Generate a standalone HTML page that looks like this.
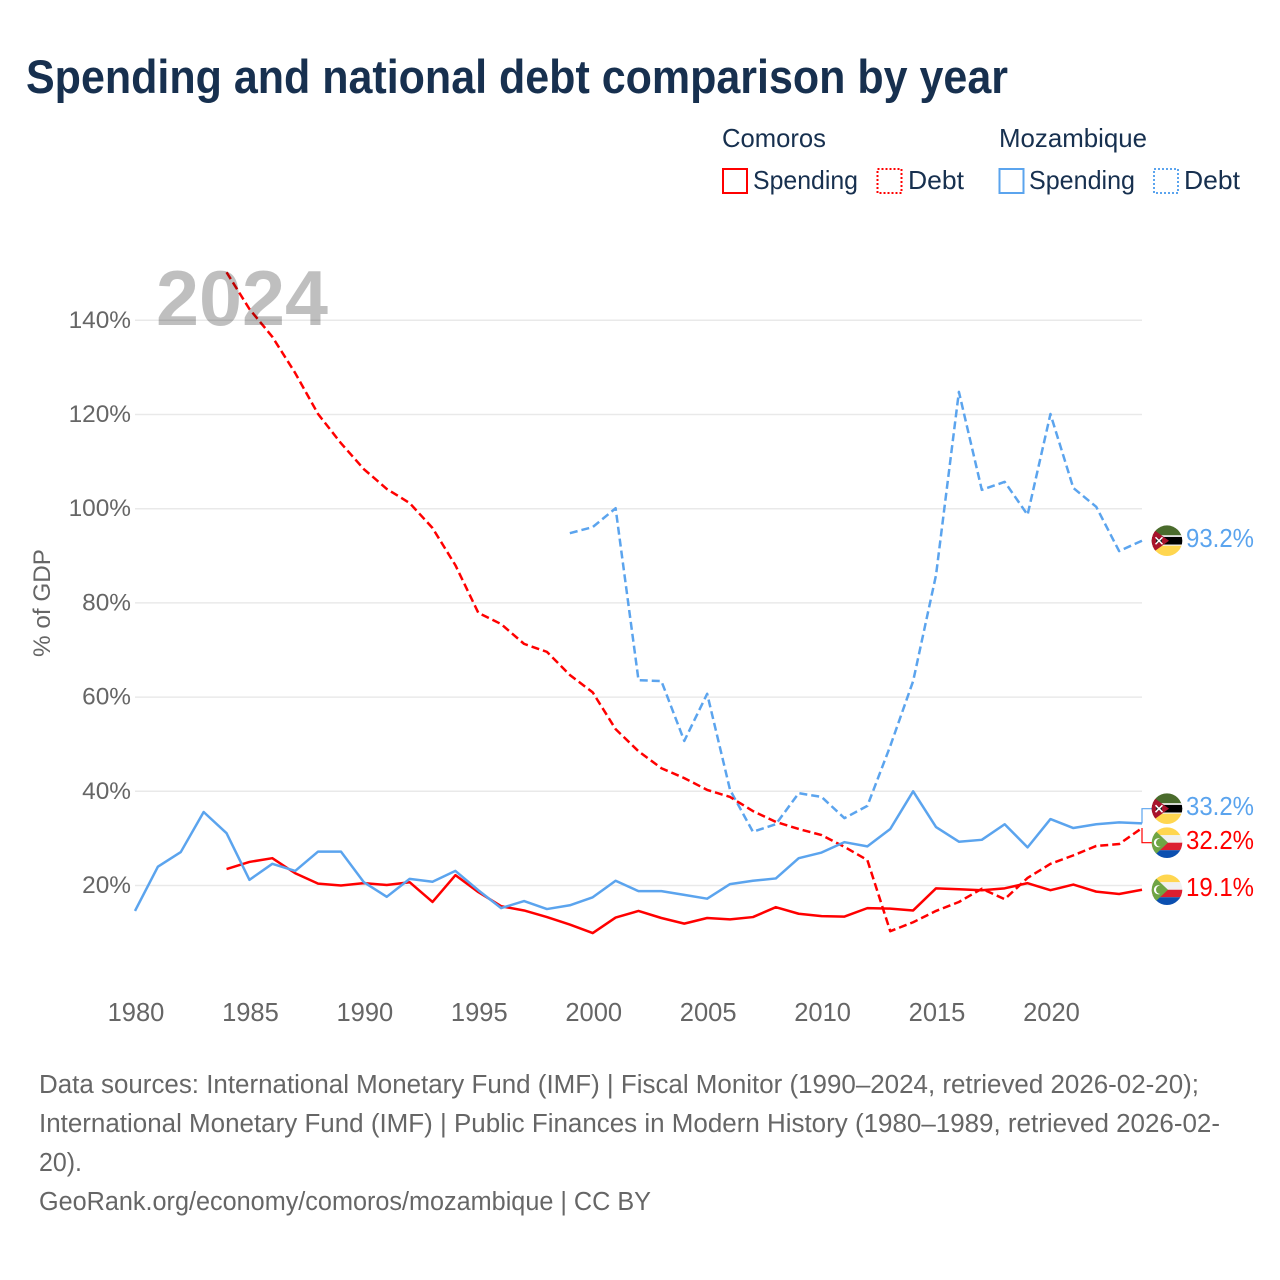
<!DOCTYPE html>
<html lang="en">
<head>
<meta charset="utf-8">
<title>Spending and national debt comparison by year</title>
<style>
html,body{margin:0;padding:0;background:#fff;width:1280px;height:1280px;overflow:hidden}
svg{display:block}
text{font-family:"Liberation Sans",sans-serif}
.leg{font-size:26px;fill:#17304f}
.foot{font-size:25.5px;fill:#666}
.xt{font-size:25.5px;fill:#666;text-anchor:middle}
.yt{font-size:24.4px;fill:#666;text-anchor:end}
.ln{fill:none;stroke-width:2.5;stroke-linejoin:round}
</style>
</head>
<body>
<svg id="chart" xmlns="http://www.w3.org/2000/svg" width="1280" height="1280" viewBox="0 0 1280 1280">
  <defs>
    <clipPath id="flag-clip"><circle cx="0" cy="0" r="15.3"/></clipPath>
    <g id="flag-mz" clip-path="url(#flag-clip)">
      <rect x="-16" y="-16" width="32" height="11" fill="#4a6b2c"/>
      <rect x="-16" y="-5.500" width="32" height="11" fill="#f2f2f2"/>
      <rect x="-16" y="-3.800" width="32" height="7.600" fill="#000"/>
      <rect x="-16" y="5" width="32" height="11" fill="#ffd64f"/>
      <polygon points="-16,-13 2,0 -16,13" fill="#a8132c"/>
      <rect x="-11" y="-2" width="6" height="4" fill="#222"/>
      <path d="M-11.500-3.500L-4.500 3.500M-4.500-3.500L-11.500 3.500" stroke="#fff" stroke-width="1.500"/>
    </g>
    <g id="flag-km" clip-path="url(#flag-clip)">
      <rect x="-16" y="-16" width="32" height="8.500" fill="#ffd64f"/>
      <rect x="-16" y="-7.500" width="32" height="7.500" fill="#f0f0f0"/>
      <rect x="-16" y="0" width="32" height="7.500" fill="#dc1f30"/>
      <rect x="-16" y="7.500" width="32" height="8.500" fill="#0b4fb0"/>
      <polygon points="-16,-16 1,0 -16,16" fill="#6fa544"/>
      <circle cx="-8.500" cy="0" r="4.600" fill="#fff"/>
      <circle cx="-6.800" cy="0" r="4.200" fill="#6fa544"/>
    </g>
  </defs>
  <rect x="0" y="0" width="1280" height="1280" fill="#fff"/>
  <text x="26" y="93" font-size="47" font-weight="700" fill="#17304f" textLength="982" lengthAdjust="spacingAndGlyphs">Spending and national debt comparison by year</text>

  <g>
    <text class="leg" x="722" y="147" textLength="104" lengthAdjust="spacingAndGlyphs">Comoros</text>
    <text class="leg" x="999" y="147" textLength="148" lengthAdjust="spacingAndGlyphs">Mozambique</text>
    <rect x="723" y="169" width="24" height="24" fill="none" stroke="#ff0000" stroke-width="2"/>
    <text class="leg" x="753" y="189" textLength="105" lengthAdjust="spacingAndGlyphs">Spending</text>
    <rect x="877.500" y="169" width="24" height="24" fill="none" stroke="#ff0000" stroke-width="2" stroke-dasharray="2 2"/>
    <text class="leg" x="908" y="189" textLength="56" lengthAdjust="spacingAndGlyphs">Debt</text>
    <rect x="999.500" y="169" width="24" height="24" fill="none" stroke="#5ba4ee" stroke-width="2"/>
    <text class="leg" x="1029" y="189" textLength="106" lengthAdjust="spacingAndGlyphs">Spending</text>
    <rect x="1154" y="169" width="24" height="24" fill="none" stroke="#5ba4ee" stroke-width="2" stroke-dasharray="2 2"/>
    <text class="leg" x="1184" y="189" textLength="56" lengthAdjust="spacingAndGlyphs">Debt</text>
  </g>

  <g id="grid"></g>
  <g id="yticks"></g>
  <g id="xticks"></g>
  <text transform="translate(50,603) rotate(-90)" text-anchor="middle" font-size="24.500" fill="#666" textLength="108" lengthAdjust="spacingAndGlyphs">% of GDP</text>
  <g id="series"></g>
  <text x="156" y="325" font-size="78" font-weight="700" fill="#000" fill-opacity="0.25" textLength="172" lengthAdjust="spacingAndGlyphs">2024</text>
  <g id="ends"></g>

  <g>
    <text class="foot" x="39" y="1093" textLength="1160" lengthAdjust="spacingAndGlyphs">Data sources: International Monetary Fund (IMF) | Fiscal Monitor (1990–2024, retrieved 2026-02-20);</text>
    <text class="foot" x="39" y="1132" textLength="1181" lengthAdjust="spacingAndGlyphs">International Monetary Fund (IMF) | Public Finances in Modern History (1980–1989, retrieved 2026-02-</text>
    <text class="foot" x="39" y="1171" textLength="43" lengthAdjust="spacingAndGlyphs">20).</text>
    <text class="foot" x="39" y="1210" textLength="612" lengthAdjust="spacingAndGlyphs">GeoRank.org/economy/comoros/mozambique | CC BY</text>
  </g>
</svg>
<script>
var yearTicks = [1980, 1985, 1990, 1995, 2000, 2005, 2010, 2015, 2020];
var pctTicks = [20, 40, 60, 80, 100, 120, 140];
var comorosSpendingYears = [1984,1985,1986,1987,1988,1989,1990,1991,1992,1993,1994,1995,1996,1997,1998,1999,2000,2001,2002,2003,2004,2005,2006,2007,2008,2009,2010,2011,2012,2013,2014,2015,2016,2017,2018,2019,2020,2021,2022,2023,2024];
var comorosSpending = [23.5,25,25.8,22.6,20.4,20,20.5,20.1,20.7,16.5,22.2,18.6,15.6,14.7,13.3,11.7,9.9,13.2,14.6,13.1,11.9,13.1,12.8,13.3,15.4,14,13.5,13.4,15.2,15.1,14.7,19.4,19.2,19,19.4,20.5,19,20.2,18.7,18.2,19.1];
var comorosDebtYears = comorosSpendingYears;
var comorosDebt = [150.2,142.4,136.5,128.8,120.1,113.9,108.4,104.2,101.2,95.9,88,77.9,75.5,71.3,69.6,64.7,61,53.2,48.5,44.9,42.8,40.3,38.8,35.8,33.5,32,30.7,28.2,25.4,10.3,12.2,14.6,16.5,19.3,17.1,21.6,24.6,26.4,28.4,28.8,32.2];
var mozSpendingYears = [1980,1981,1982,1983,1984,1985,1986,1987,1988,1989,1990,1991,1992,1993,1994,1995,1996,1997,1998,1999,2000,2001,2002,2003,2004,2005,2006,2007,2008,2009,2010,2011,2012,2013,2014,2015,2016,2017,2018,2019,2020,2021,2022,2023,2024];
var mozSpending = [14.6,24,27.1,35.6,31.1,21.2,24.6,23.1,27.2,27.2,20.7,17.6,21.4,20.8,23.1,19,15.2,16.7,15,15.8,17.5,21,18.8,18.8,18,17.2,20.3,21,21.5,25.8,27,29.2,28.3,32,40,32.4,29.3,29.7,33,28.1,34.1,32.2,33,33.4,33.2];
var mozDebtYears = [1999,2000,2001,2002,2003,2004,2005,2006,2007,2008,2009,2010,2011,2012,2013,2014,2015,2016,2017,2018,2019,2020,2021,2022,2023,2024];
var mozDebt = [94.8,96.1,100.1,63.6,63.4,50.7,60.7,40.3,31.4,33,39.6,38.8,34.3,36.9,49.6,63.4,85.9,124.8,104,105.7,98.7,120.1,104.4,100.4,91,93.2];

var NS = 'http://www.w3.org/2000/svg';
var RED = '#ff0000', BLUE = '#5ba4ee';
function xScale(year) { return 135 + (year - 1980) * (1007 / 44); }
function yScale(v) { return 979.7 - v * 4.71; }
function make(tag, parent) {
  var el = document.createElementNS(NS, tag);
  parent.appendChild(el);
  return el;
}

var grid = document.getElementById('grid');
var yticks = document.getElementById('yticks');
pctTicks.forEach(function (t) {
  var l = make('line', grid);
  
  
  l.setAttribute('x1', 135);
  l.setAttribute('x2', 1142);
  l.setAttribute('y1', yScale(t));
  l.setAttribute('y2', yScale(t));
  l.setAttribute('stroke', '#e9e9e9');
  l.setAttribute('stroke-width', 1.5);
  var tx = make('text', yticks);
  
  
  tx.setAttribute('class', 'yt');
  tx.setAttribute('x', 131);
  tx.setAttribute('y', yScale(t) + 7.5);
  tx.textContent = t + '%';
});

var xticks = document.getElementById('xticks');
yearTicks.forEach(function (t) {
  var tx = make('text', xticks);
  
  
  tx.setAttribute('class', 'xt');
  tx.setAttribute('x', xScale(t) + 1);
  tx.setAttribute('y', 1021);
  tx.textContent = t;
});

var seriesGroup = document.getElementById('series');
function drawLine(name, years, values, color, dashed) {
  var p = make('polyline', seriesGroup);
  
  
  p.setAttribute('class', 'ln');
  p.setAttribute('stroke', color);
  if (dashed) p.setAttribute('stroke-dasharray', '8 4');
  p.setAttribute('points', values.map(function (v, i) {
    return xScale(years[i]).toFixed(2) + ',' + yScale(v).toFixed(2);
  }).join(' '));
}
drawLine('line-mozambique-debt', mozDebtYears, mozDebt, BLUE, true);
drawLine('line-comoros-debt', comorosDebtYears, comorosDebt, RED, true);
drawLine('line-comoros-spending', comorosSpendingYears, comorosSpending, RED, false);
drawLine('line-mozambique-spending', mozSpendingYears, mozSpending, BLUE, false);

/* end-of-line labels: flag + last value, pushed apart when they would collide */
var endItems = [
  { key: 'mozambique-debt', last: mozDebt[mozDebt.length - 1], color: BLUE, flag: '#flag-mz' },
  { key: 'mozambique-spending', last: mozSpending[mozSpending.length - 1], color: BLUE, flag: '#flag-mz' },
  { key: 'comoros-debt', last: comorosDebt[comorosDebt.length - 1], color: RED, flag: '#flag-km' },
  { key: 'comoros-spending', last: comorosSpending[comorosSpending.length - 1], color: RED, flag: '#flag-km' }
];
endItems.forEach(function (d) { d.y0 = yScale(d.last); d.y = d.y0; });
endItems.sort(function (a, b) { return a.y0 - b.y0; });
var GAP = 34;
for (var pass = 0; pass < 8; pass++) {
  for (var i = 1; i < endItems.length; i++) {
    var over = GAP - (endItems[i].y - endItems[i - 1].y);
    if (over > 0) {
      endItems[i - 1].y -= over / 2;
      endItems[i].y += over / 2;
    }
  }
}
var ends = document.getElementById('ends');
endItems.forEach(function (d) {
  if (Math.abs(d.y - d.y0) > 1) {
    var c = make('polyline', ends);
    
    
    c.setAttribute('fill', 'none');
    c.setAttribute('stroke', d.color);
    c.setAttribute('stroke-width', 1.2);
    c.setAttribute('points', '1142,' + d.y0 + ' 1142,' + d.y + ' 1153,' + d.y);
  }
  var f = make('use', ends);
  
  
  f.setAttribute('href', d.flag);
  f.setAttribute('transform', 'translate(1167,' + d.y + ')');
  var t = make('text', ends);
  
  
  t.setAttribute('x', 1186);
  t.setAttribute('y', d.y + 6.5);
  t.setAttribute('font-size', 25.5);
  t.setAttribute('fill', d.color);
  t.setAttribute('textLength', 68);
  t.setAttribute('lengthAdjust', 'spacingAndGlyphs');
  t.textContent = d.last.toFixed(1) + '%';
});
</script>
</body>
</html>
